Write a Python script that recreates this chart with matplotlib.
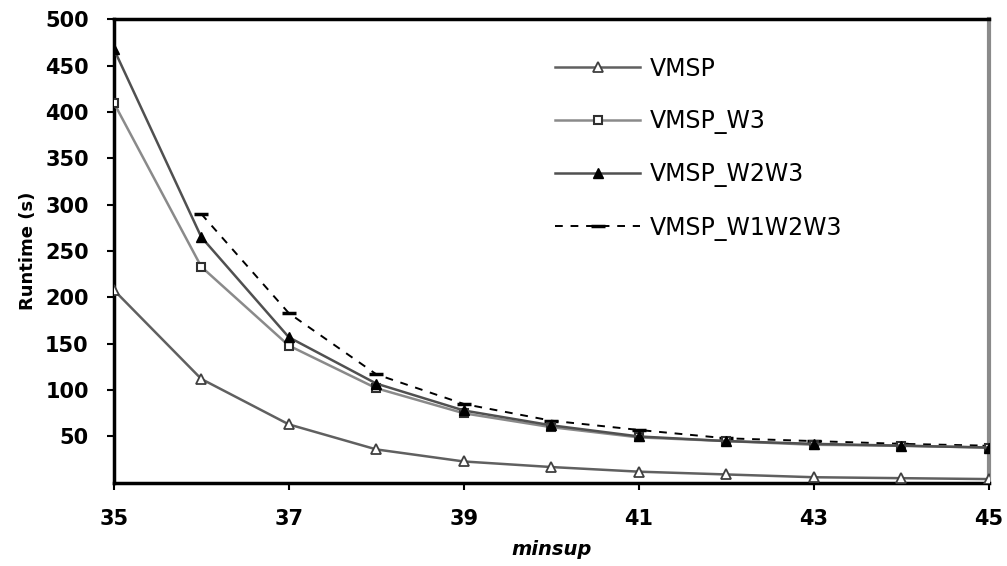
import matplotlib
matplotlib.use("Agg")
import matplotlib.pyplot as plt
import numpy as np

minsup = [35, 36, 37, 38, 39, 40, 41, 42, 43, 44, 45]
vmsp = [208, 112, 63, 36, 23, 17, 12, 9, 6, 5, 4]
vmsp_w3 = [410, 233, 148, 102, 75, 60, 49, 45, 41, 40, 38]
vmsp_w2w3 = [468, 265, 157, 107, 78, 62, 50, 45, 42, 40, 38]
vmsp_w1w2w3 = [np.nan, 290, 183, 117, 85, 67, 57, 48, 45, 42, 40]
xticks = [35, 37, 39, 41, 43, 45]
yticks = [50, 100, 150, 200, 250, 300, 350, 400, 450, 500]

plt.rcParams['font.family'] = ['DejaVu Sans']
fig = plt.figure(figsize=(10.07, 5.66), dpi=100)
ax = fig.add_axes([0.113, 0.147, 0.869, 0.819])

ax.plot(minsup, vmsp, color='#606060', lw=1.8, marker='^', ms=7,
        mfc='white', mec='#404040', mew=1.3, label='VMSP', zorder=3)
ax.plot(minsup, vmsp_w3, color='#8a8a8a', lw=1.8, marker='s', ms=6,
        mfc='white', mec='#303030', mew=1.5, label='VMSP_W3', zorder=3)
ax.plot(minsup, vmsp_w2w3, color='#505050', lw=1.8, marker='^', ms=7,
        mfc='black', mec='black', label='VMSP_W2W3', zorder=4)
ax.plot(minsup, vmsp_w1w2w3, color='black', lw=1.4, ls=(0, (4, 4)),
        marker='_', ms=10, mew=2.5, mec='black', label='VMSP_W1W2W3', zorder=2)

ax.set_xlim(35, 45)
ax.set_ylim(0, 500)
ax.set_xticks(xticks)
ax.set_yticks(yticks)
ax.tick_params(axis='both', labelsize=15, width=1.5, length=5, direction='out')
for lab in ax.get_xticklabels() + ax.get_yticklabels():
    lab.set_fontweight('bold')
ax.tick_params(axis='x', pad=14)
ax.tick_params(axis='y', pad=13)

for s in ['left', 'bottom', 'top']:
    ax.spines[s].set_color('black')
    ax.spines[s].set_linewidth(2.5)
ax.spines['right'].set_color('#8a8a8a')
ax.spines['right'].set_linewidth(3)

ax.set_xlabel('minsup', fontsize=14, fontweight='bold', style='italic', labelpad=8)
ax.set_ylabel('Runtime (s)', fontsize=13, fontweight='bold', labelpad=6)

leg = ax.legend(loc='upper left', bbox_to_anchor=(0.48, 0.965), frameon=False,
                fontsize=17, handlelength=3.6, labelspacing=1.2, handletextpad=0.4)

fig.savefig('out.png', dpi=100)
